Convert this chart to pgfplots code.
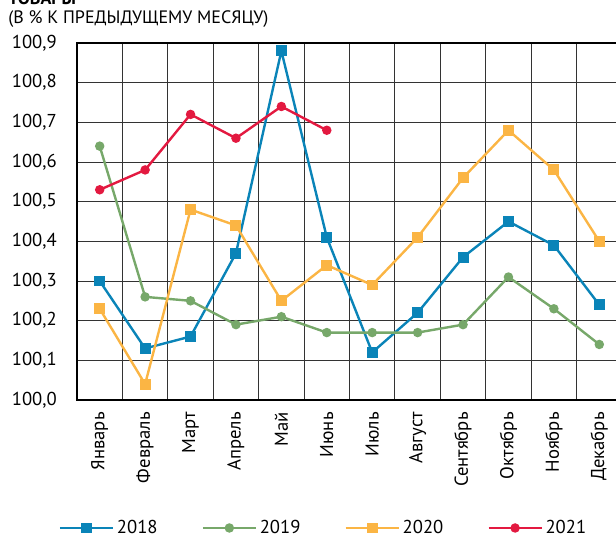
\documentclass[border=0pt]{standalone}
\usepackage{fontspec}
\setmainfont{PT Sans}
\usepackage{pgfplots}
\pgfplotsset{compat=1.18}

\definecolor{c2018}{HTML}{0A84B8}
\definecolor{c2019}{HTML}{77A86A}
\definecolor{c2020}{HTML}{FBB544}
\definecolor{c2021}{HTML}{E31940}

\begin{document}
\begin{tikzpicture}
\begin{axis}[
    scale only axis,
    width=408.75pt, height=267.75pt,
    xmin=-0.5, xmax=11.5,
    ymin=100, ymax=100.9,
    xtick={0,1,2,3,4,5,6,7,8,9,10,11},
    xticklabels={Январь,Февраль,Март,Апрель,Май,Июнь,Июль,Август,Сентябрь,Октябрь,Ноябрь,Декабрь},
    minor xtick={-0.5,0.5,1.5,2.5,3.5,4.5,5.5,6.5,7.5,8.5,9.5,10.5,11.5},
    ytick={100,100.1,100.2,100.3,100.4,100.5,100.6,100.7,100.8,100.9},
    xminorgrids, ymajorgrids, xmajorgrids=false,
    major tick length=0pt, minor tick length=0pt,
    grid style={line width=0.75pt, draw=black!80},
    minor grid style={line width=0.75pt, draw=black!80},
    axis line style={line width=1pt, black},
    tick label style={font=\fontsize{14}{16}\selectfont},
    /pgf/number format/.cd, fixed, fixed zerofill, precision=1, use comma, 1000 sep={}, assume math mode=true,
    /pgfplots/.cd,
    yticklabel style={inner sep=0pt, xshift=-15pt},
    xticklabel style={rotate=90, anchor=east, inner sep=0pt},
    xticklabel shift=9pt,
    legend columns=4,
    legend style={draw=none, fill=none, at={(axis description cs:-0.034,-0.3585)}, anchor=west,
        font=\fontsize{14}{16}\selectfont, inner sep=0pt,
        /tikz/every even column/.append style={column sep=31pt}},
    legend image code/.code={\draw[mark repeat=2,mark phase=2,#1] plot coordinates {(0cm,0cm) (0.7cm,0cm) (1.4cm,0cm)};},
]
\addplot[c2018, line width=1.8pt, mark=square*, mark size=3.2pt, mark options={solid}] coordinates {
(0,100.30) (1,100.13) (2,100.16) (3,100.37) (4,100.88) (5,100.41)
(6,100.12) (7,100.22) (8,100.36) (9,100.45) (10,100.39) (11,100.24)
};
\addlegendentry{2018}
\addplot[c2019, line width=1.8pt, mark=*, mark size=2.6pt] coordinates {
(0,100.64) (1,100.26) (2,100.25) (3,100.19) (4,100.21) (5,100.17)
(6,100.17) (7,100.17) (8,100.19) (9,100.31) (10,100.23) (11,100.14)
};
\addlegendentry{2019}
\addplot[c2020, line width=1.8pt, mark=square*, mark size=3.2pt] coordinates {
(0,100.23) (1,100.04) (2,100.48) (3,100.44) (4,100.25) (5,100.34)
(6,100.29) (7,100.41) (8,100.56) (9,100.68) (10,100.58) (11,100.40)
};
\addlegendentry{2020}
\addplot[c2021, line width=1.8pt, mark=*, mark size=2.6pt] coordinates {
(0,100.53) (1,100.58) (2,100.72) (3,100.66) (4,100.74) (5,100.68)
};
\addlegendentry{2021}
\end{axis}
\node[anchor=west, inner sep=0pt, font=\fontsize{13.5}{15}\selectfont\bfseries] at (-51.75pt,301.5pt) {ТОВАРЫ};
\node[anchor=west, inner sep=0pt, font=\fontsize{13.5}{15}\selectfont] at (-51.75pt,285.75pt) {(В \% К ПРЕДЫДУЩЕМУ МЕСЯЦУ)};
\pgfresetboundingbox
\useasboundingbox (-57.75pt,-103.5pt) rectangle (404.25pt,300pt);
\end{tikzpicture}
\end{document}
